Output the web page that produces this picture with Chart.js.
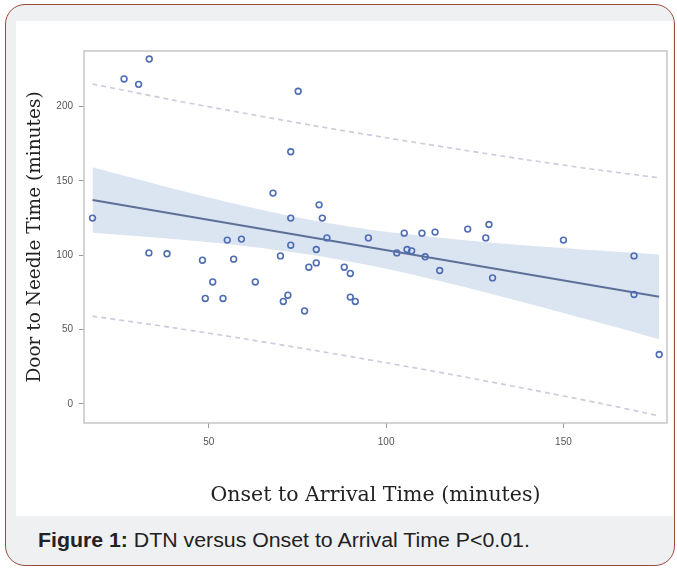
<!DOCTYPE html>
<html><head><meta charset="utf-8">
<script src="https://cdn.jsdelivr.net/npm/chart.js@4.4.1/dist/chart.umd.min.js"></script>
<style>
html,body{margin:0;padding:0;background:#fff;}
body{width:677px;height:571px;position:relative;overflow:hidden;}
#frame{position:absolute;left:5px;top:4px;width:668px;height:560px;border:1.5px solid #9a4a3a;border-radius:20px;background:#eff0f2;}
#panel{position:absolute;left:16px;top:21px;width:657px;height:495px;background:#fff;}
#cap{position:absolute;left:38px;top:529px;font-family:'Liberation Sans',Arial,sans-serif;font-size:20px;color:#222;white-space:nowrap;transform:scaleX(1.065);transform-origin:0 0;}
#wrap{position:absolute;left:0;top:0;width:677px;height:571px;}
</style></head>
<body>
<div id="frame"></div>
<div id="panel"></div>
<div id="cap"><b>Figure 1:</b> DTN versus Onset to Arrival Time P&lt;0.01.</div>
<div id="wrap"><canvas id="c" width="677" height="571"></canvas></div>
<script>
// Observed data (minutes)
const onsetToArrival = [33.2,26.1,30.2,17.2,68.1,75.2,73.1,81.1,73.1,82.0,55.2,59.2,33.1,38.2,48.2,57.0,51.1,63.1,49.0,54.0,105.1,110.1,113.8,83.3,95.0,73.1,70.2,80.3,78.2,80.3,88.2,89.9,72.3,71.0,89.9,91.3,77.0,103.0,105.9,107.2,111.0,115.1,129.0,123.0,128.1,150.0,130.0,169.9,169.9,177.0];
const doorToNeedle   = [231.8,218.4,214.8,124.9,141.7,210.1,169.5,133.8,124.9,124.9,110.1,110.8,101.5,100.9,96.6,97.3,82.0,82.0,70.9,70.9,114.8,114.8,115.5,111.6,111.6,106.7,99.5,103.8,91.9,94.8,91.9,87.7,73.1,68.9,71.8,68.9,62.5,101.5,103.8,102.9,98.9,89.7,120.6,117.5,111.6,110.1,84.7,99.5,73.6,33.2];
// Fitted line (read at the ends)
const fitX = [17.2, 177.0];
const fitY = [137.0, 72.0];
// Confidence / prediction bands
const bandX   = [17.2, 40, 60, 80, 100, 120, 140, 160, 177];
const ciUpper = [159.0, 144.6, 133.0, 123.1, 115.7, 110.6, 106.5, 103.1, 100.5];
const ciLower = [115.0, 110.8, 106.2, 99.8, 90.9, 79.8, 67.5, 54.7, 43.5];
const piUpper = [215.0, 204.2, 195.4, 186.9, 178.9, 171.3, 164.0, 157.2, 152.0];
const piLower = [59.0, 51.2, 43.8, 35.9, 27.7, 19.1, 10.0, 0.6, -8.0];
// Tick labels
const xTicks = [50, 100, 150];
const yTicks = [0, 50, 100, 150, 200];

const pts = (xs, ys) => xs.map((x, i) => ({x, y: ys[i]}));

const boxPlugin = {
  id: 'plotBox',
  beforeDatasetsDraw(chart) {
    const a = chart.chartArea, ctx = chart.ctx;
    ctx.save();
    ctx.strokeStyle = '#c6c6c6';
    ctx.lineWidth = 1.5;
    ctx.strokeRect(a.left, a.top, a.right - a.left, a.bottom - a.top);
    ctx.restore();
  }
};

const tickFont = {family: "'Liberation Sans', Arial, sans-serif", size: 10};

new Chart(document.getElementById('c'), {
  type: 'scatter',
  data: {
    datasets: [
      {
        label: 'Observed',
        data: pts(onsetToArrival, doorToNeedle),
        pointStyle: 'circle',
        pointRadius: 2.9,
        pointBorderWidth: 1.6,
        pointBorderColor: '#4e6db5',
        pointBackgroundColor: 'rgba(0,0,0,0)',
        showLine: false
      },
      {
        type: 'line',
        label: 'Fit',
        data: pts(fitX, fitY),
        borderColor: '#5d7098',
        borderWidth: 2,
        pointRadius: 0,
        showLine: true,
        fill: false
      },
      {
        type: 'line',
        label: 'PI upper',
        data: pts(bandX, piUpper),
        borderColor: '#cbcbdd',
        borderWidth: 1.6,
        borderDash: [5, 4],
        pointRadius: 0,
        tension: 0.3,
        showLine: true,
        fill: false
      },
      {
        type: 'line',
        label: 'PI lower',
        data: pts(bandX, piLower),
        borderColor: '#cbcbdd',
        borderWidth: 1.6,
        borderDash: [5, 4],
        pointRadius: 0,
        tension: 0.3,
        showLine: true,
        fill: false
      },
      {
        type: 'line',
        label: 'CI upper',
        data: pts(bandX, ciUpper),
        borderWidth: 0,
        borderColor: 'rgba(0,0,0,0)',
        backgroundColor: '#dbe5f1',
        pointRadius: 0,
        tension: 0.3,
        showLine: true,
        fill: '+1'
      },
      {
        type: 'line',
        label: 'CI lower',
        data: pts(bandX, ciLower),
        borderWidth: 0,
        borderColor: 'rgba(0,0,0,0)',
        pointRadius: 0,
        tension: 0.3,
        showLine: true,
        fill: false
      }
    ]
  },
  options: {
    responsive: false,
    devicePixelRatio: 1,
    animation: false,
    layout: {padding: {left: 12, top: 51, right: 10, bottom: 58}},
    plugins: {legend: {display: false}, tooltip: {enabled: false}},
    scales: {
      x: {
        type: 'linear', min: 14.8, max: 179.2,
        afterBuildTicks: s => { s.ticks = xTicks.map(v => ({value: v})); },
        afterFit: s => { s.height = 90; },
        border: {display: false},
        grid: {drawOnChartArea: false, drawTicks: true, tickLength: 5, color: '#9a9a9a'},
        ticks: {padding: 8, font: tickFont, color: '#555', maxRotation: 0},
        title: {display: true, text: 'Onset to Arrival Time (minutes)', font: {family: "'DejaVu Serif', serif", size: 20.5}, color: '#222', padding: {top: 0, bottom: 5}}
      },
      y: {
        type: 'linear', min: -12.8, max: 237.2,
        afterBuildTicks: s => { s.ticks = yTicks.map(v => ({value: v})); },
        afterFit: s => { s.width = 72; },
        border: {display: false},
        grid: {drawOnChartArea: false, drawTicks: true, tickLength: 5, color: '#9a9a9a'},
        ticks: {padding: 6, font: tickFont, color: '#555'},
        title: {display: true, text: 'Door to Needle Time (minutes)', font: {family: "'DejaVu Serif', serif", size: 18.5}, color: '#222', padding: {top: 12, bottom: 0}}
      }
    }
  },
  plugins: [boxPlugin]
});
</script>
</body></html>
